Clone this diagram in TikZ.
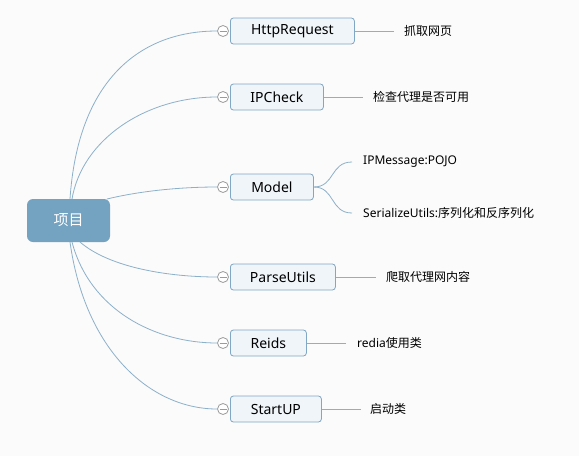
\documentclass[tikz,border=0pt]{standalone}
\usepackage{fontspec}
\setmainfont{Noto Sans}
\newfontfamily\cjk{Noto Sans CJK SC}
\definecolor{bgc}{RGB}{251,251,251}
\definecolor{rootc}{RGB}{116,162,193}
\definecolor{boxfill}{RGB}{239,245,249}
\definecolor{boxdraw}{RGB}{128,167,196}
\definecolor{linec}{RGB}{140,176,201}
\definecolor{circc}{RGB}{155,155,155}
\begin{document}
\begin{tikzpicture}[x=1pt,y=-1pt,
  rootbox/.style={fill=rootc,rounded corners=6pt,minimum width=83pt,minimum height=43pt,inner sep=0pt,text=white,font=\cjk\fontsize{15}{18}\selectfont},
  topic/.style={draw=boxdraw,fill=boxfill,rounded corners=3pt,minimum height=26pt,inner sep=0pt,anchor=west,font=\fontsize{14}{16}\selectfont,line width=0.8pt},
  leaf/.style={anchor=west,inner sep=0pt,font=\fontsize{12}{14}\selectfont},
  knob/.style={circle,draw=circc,fill=white,minimum size=11pt,inner sep=0pt,line width=0.8pt,
    path picture={\draw[circc,line width=0.8pt] ([xshift=-3.5pt]path picture bounding box.center) -- ([xshift=3.5pt]path picture bounding box.center);}},
  conn/.style={draw=linec,line width=0.8pt}
]
\fill[bgc] (0,0) rectangle (579,456);
\useasboundingbox (0,0) rectangle (579,456);

\node[rootbox] (root) at (68.5,220.5) {项目};

\node[topic,minimum width=124pt] (t1) at (230,31) {HttpRequest};
\node[topic,minimum width=93pt] (t2) at (230,97) {IPCheck};
\node[topic,minimum width=83pt] (t3) at (230,187) {Model};
\node[topic,minimum width=105pt] (t4) at (230,277) {ParseUtils};
\node[topic,minimum width=76pt] (t5) at (230,343) {Reids};
\node[topic,minimum width=91pt] (t6) at (230,409) {StartUP};

\foreach \i/\y in {1/31,2/97,3/187,4/277,5/343,6/409}{
  \node[knob] (k\i) at (223,\y) {};
}

% curves from root
\coordinate (r1) at (70,199);
\coordinate (r2) at (72,199);
\coordinate (r3) at (107,199);
\coordinate (r4) at (80,242);
\coordinate (r5) at (72,242);
\coordinate (r6) at (70,242);
\draw[conn] (r1) .. controls (78,80) and (140,31) .. (k1.west);
\draw[conn] (r2) .. controls (82,140) and (145,97) .. (k2.west);
\draw[conn] (r3) .. controls (140,191) and (180,187) .. (k3.west);
\draw[conn] (r4) .. controls (110,268) and (170,277) .. (k4.west);
\draw[conn] (r5) .. controls (90,310) and (155,343) .. (k5.west);
\draw[conn] (r6) .. controls (85,350) and (150,409) .. (k6.west);

% leaves
\node[leaf] (l1) at (404,31) {\cjk 抓取网页};
\node[leaf] (l2) at (373,97) {\cjk 检查代理是否可用};
\node[leaf] (l4) at (386,277) {\cjk 爬取代理网内容};
\node[leaf] (l5) at (357,343) {redia{\cjk 使用类}};
\node[leaf] (l6) at (370,409) {\cjk 启动类};
\node[leaf] (m1) at (363,162) {IPMessage:POJO};
\node[leaf] (m2) at (363,213) {SerializeUtils:{\cjk 序列化和反序列化}};

\coordinate (e1) at (394,31);
\coordinate (e2) at (363,97);
\coordinate (e4) at (376,277);
\coordinate (e5) at (346,343);
\coordinate (e6) at (361,409);
\coordinate (f1) at (352,162);
\coordinate (f2) at (352,213);
\draw[conn] (t1.east) -- (e1);
\draw[conn] (t2.east) -- (e2);
\draw[conn] (t4.east) -- (e4);
\draw[conn] (t5.east) -- (e5);
\draw[conn] (t6.east) -- (e6);
\draw[conn] (t3.east) .. controls (335,187) and (330,162) .. (f1);
\draw[conn] (t3.east) .. controls (335,187) and (330,213) .. (f2);
\end{tikzpicture}
\end{document}
